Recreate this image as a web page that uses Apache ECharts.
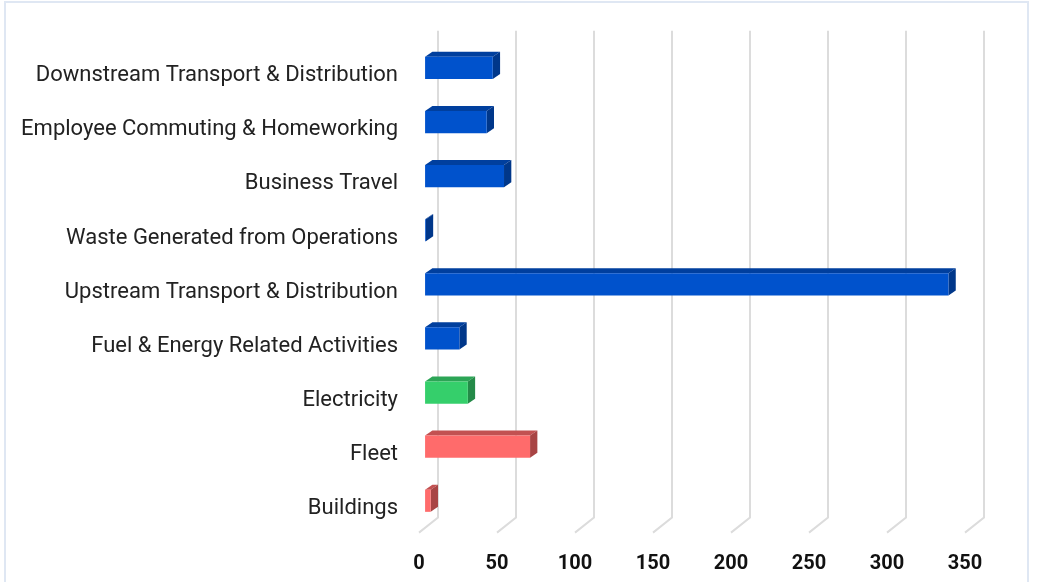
<!DOCTYPE html>
<html>
<head>
<meta charset="utf-8">
<script src="https://cdn.jsdelivr.net/npm/echarts@6/dist/echarts.min.js"></script>
<style>
  html, body { margin: 0; padding: 0; background: #fff; }
  #chart { width: 1037px; height: 582px; }
</style>
</head>
<body>
<div id="chart"></div>
<script>
// categories, top to bottom
const categories = [
  "Downstream Transport & Distribution",
  "Employee Commuting & Homeworking",
  "Business Travel",
  "Waste Generated from Operations",
  "Upstream Transport & Distribution",
  "Fuel & Energy Related Activities",
  "Electricity",
  "Fleet",
  "Buildings"
];
const emissions = [43.4, 39.5, 50.6, 0.5, 335.5, 22, 27.4, 67.3, 3.6];
// emission scope of each category
const scopes = [3, 3, 3, 3, 3, 3, 2, 1, 1];
const xTicks = [0, 50, 100, 150, 200, 250, 300, 350];

// colours per scope: front face, top face, side face
const scopeColors = {
  1: ["#ff6b6b", "#c25151", "#a84444"],
  2: ["#35cf6b", "#2ca556", "#248a48"],
  3: ["#0052cc", "#003f9e", "#00378a"]
};

// depth of the 3d box, in pixels
const DEPTH_X = 19, DEPTH_Y = -15;

const chart = echarts.init(document.getElementById("chart"));

function renderGridLine(params, api) {
  const cs = params.coordSys;
  const x = api.coord([api.value(0), 0])[0];
  const bottom = cs.y + cs.height;
  return {
    type: "polyline",
    shape: {
      points: [
        [x + DEPTH_X, cs.y + DEPTH_Y],
        [x + DEPTH_X, bottom + DEPTH_Y],
        [x, bottom]
      ]
    },
    style: { stroke: "#dcdcdc", lineWidth: 2, fill: null }
  };
}

function renderBar(params, api) {
  const v = api.value(0);
  const ci = api.value(1);
  const p0 = api.coord([0, ci]);
  const p1 = api.coord([v, ci]);
  const h = api.size([0, 1])[1] * 0.41;
  // front face sits a third of the way into the depth
  const fx = DEPTH_X * 0.32, fy = DEPTH_Y * 0.32;
  const dx = 7.3, dy = -5;
  const x0 = p0[0] + fx, x1 = p1[0] + fx;
  const top = p0[1] + fy - h / 2, bot = top + h;
  const c = scopeColors[scopes[params.dataIndex]];
  return {
    type: "group",
    children: [
      {
        type: "polygon",
        shape: { points: [[x0, top], [x1, top], [x1 + dx, top + dy], [x0 + dx, top + dy]] },
        style: { fill: c[1] }
      },
      {
        type: "polygon",
        shape: { points: [[x1, top], [x1 + dx, top + dy], [x1 + dx, bot + dy], [x1, bot]] },
        style: { fill: c[2] }
      },
      {
        type: "rect",
        shape: { x: x0, y: top, width: Math.max(x1 - x0, 0.5), height: h },
        style: { fill: c[0] }
      }
    ]
  };
}

const option = {
  animation: false,
  textStyle: { fontFamily: "Roboto" },
  graphic: [
    {
      type: "rect",
      shape: { x: 5, y: 2, width: 1023, height: 620 },
      style: { fill: null, stroke: "#dfe7f3", lineWidth: 2 },
      silent: true
    }
  ],
  grid: { left: 419, right: 72, top: 45.7, bottom: 49.4 },
  xAxis: {
    type: "value",
    min: 0,
    max: 350,
    interval: 50,
    axisLine: { show: false },
    axisTick: { show: false },
    splitLine: { show: false },
    axisLabel: {
      margin: 21,
      fontSize: 20,
      fontWeight: "bold",
      color: "#111",
      fontFamily: "Roboto"
    }
  },
  yAxis: {
    type: "category",
    inverse: true,
    data: categories,
    axisLine: { show: false },
    axisTick: { show: false },
    axisLabel: {
      margin: 21,
      formatter: v => "{l|" + v + "}",
      rich: {
        l: {
          fontSize: 22,
          color: "#222",
          fontFamily: "Roboto",
          padding: [6, 0, 0, 0]
        }
      }
    }
  },
  series: [
    {
      type: "custom",
      renderItem: renderGridLine,
      data: xTicks.map(t => [t, 0]),
      encode: { x: 0, y: 1 },
      silent: true,
      z: 1
    },
    {
      type: "custom",
      renderItem: renderBar,
      data: emissions.map((v, i) => [v, i]),
      encode: { x: 0, y: 1 },
      z: 2
    }
  ]
};

chart.setOption(option);
</script>
</body>
</html>
